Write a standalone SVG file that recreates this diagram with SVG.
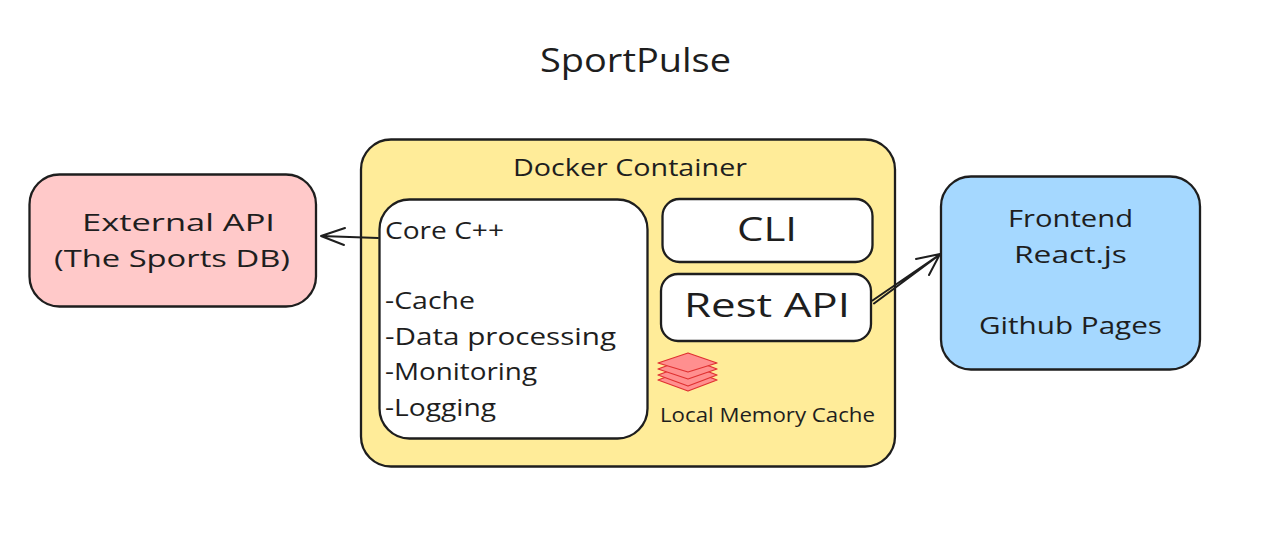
<svg xmlns="http://www.w3.org/2000/svg" width="1287" height="546" viewBox="0 0 1287 546">
<style>
.box{stroke:#1e1e1e;stroke-width:2.300}
text{font-family:"Open Sans","Noto Sans","DejaVu Sans",sans-serif;fill:#1e1e1e}
.c{stroke:#1e1e1e;stroke-width:2;fill:none;stroke-linecap:round;stroke-linejoin:round}
.l{fill:#ff8f8f;stroke:#e03131;stroke-width:1.300;stroke-linejoin:round}
</style>
<rect width="1287" height="546" fill="#ffffff"/>
<text id="title" x="540" y="72" font-size="32" textLength="191" lengthAdjust="spacingAndGlyphs">SportPulse</text>
<g id="external-api">
<rect class="box" x="29.500" y="174.500" width="286.500" height="132" rx="30" fill="#ffc9c9"/>
<text x="82" y="231" font-size="24" textLength="193" lengthAdjust="spacingAndGlyphs">External API</text>
<text x="54" y="267" font-size="24" textLength="236" lengthAdjust="spacingAndGlyphs">(The Sports DB)</text>
</g>
<g id="docker-container">
<rect class="box" x="361" y="139.500" width="534" height="327" rx="30" fill="#ffec99"/>
<text x="513" y="176" font-size="24" textLength="234" lengthAdjust="spacingAndGlyphs">Docker Container</text>
</g>
<g id="core">
<rect class="box" x="379.500" y="199.500" width="268" height="239" rx="30" fill="#ffffff"/>
<text x="385" y="239" font-size="24" textLength="119" lengthAdjust="spacingAndGlyphs">Core C++</text>
<text x="385" y="309" font-size="24" textLength="90" lengthAdjust="spacingAndGlyphs">-Cache</text>
<text x="385" y="345" font-size="24" textLength="231" lengthAdjust="spacingAndGlyphs">-Data processing</text>
<text x="385" y="380" font-size="24" textLength="152" lengthAdjust="spacingAndGlyphs">-Monitoring</text>
<text x="385" y="416" font-size="24" textLength="111" lengthAdjust="spacingAndGlyphs">-Logging</text>
</g>
<g id="cli">
<rect class="box" x="662.500" y="199" width="210" height="63" rx="17" fill="#ffffff"/>
<text x="737" y="241" font-size="32" textLength="60" lengthAdjust="spacingAndGlyphs">CLI</text>
</g>
<g id="rest-api">
<rect class="box" x="661" y="274" width="210" height="67" rx="17" fill="#ffffff"/>
<text x="684" y="317" font-size="32" textLength="166" lengthAdjust="spacingAndGlyphs">Rest API</text>
</g>
<g id="local-memory-cache">
<polygon class="l" points="658,380 688,369 717,380 688,391"/>
<polygon class="l" points="658,375 688,364 717,375 688,386"/>
<polygon class="l" points="658,369 688,358 717,369 688,379"/>
<polygon class="l" points="658,363 688,353 717,363 688,372"/>
<text x="660" y="422" font-size="20" textLength="215" lengthAdjust="spacingAndGlyphs">Local Memory Cache</text>
</g>
<g id="frontend">
<rect class="box" x="941" y="176.500" width="259" height="193" rx="30" fill="#a5d8ff"/>
<text x="1008" y="227" font-size="24" textLength="125" lengthAdjust="spacingAndGlyphs">Frontend</text>
<text x="1014" y="263" font-size="24" textLength="113" lengthAdjust="spacingAndGlyphs">React.js</text>
<text x="979" y="334" font-size="24" textLength="183" lengthAdjust="spacingAndGlyphs">Github Pages</text>
</g>
<g id="connectors">
<path class="c" d="M378 238 L321 236 M345 228 L321 236 L344 245"/>
<path class="c" d="M874 303.500 L940 254.500 M872.500 300.500 L939 255 M916 259 L940 254 L929 275"/>
</g>
</svg>
